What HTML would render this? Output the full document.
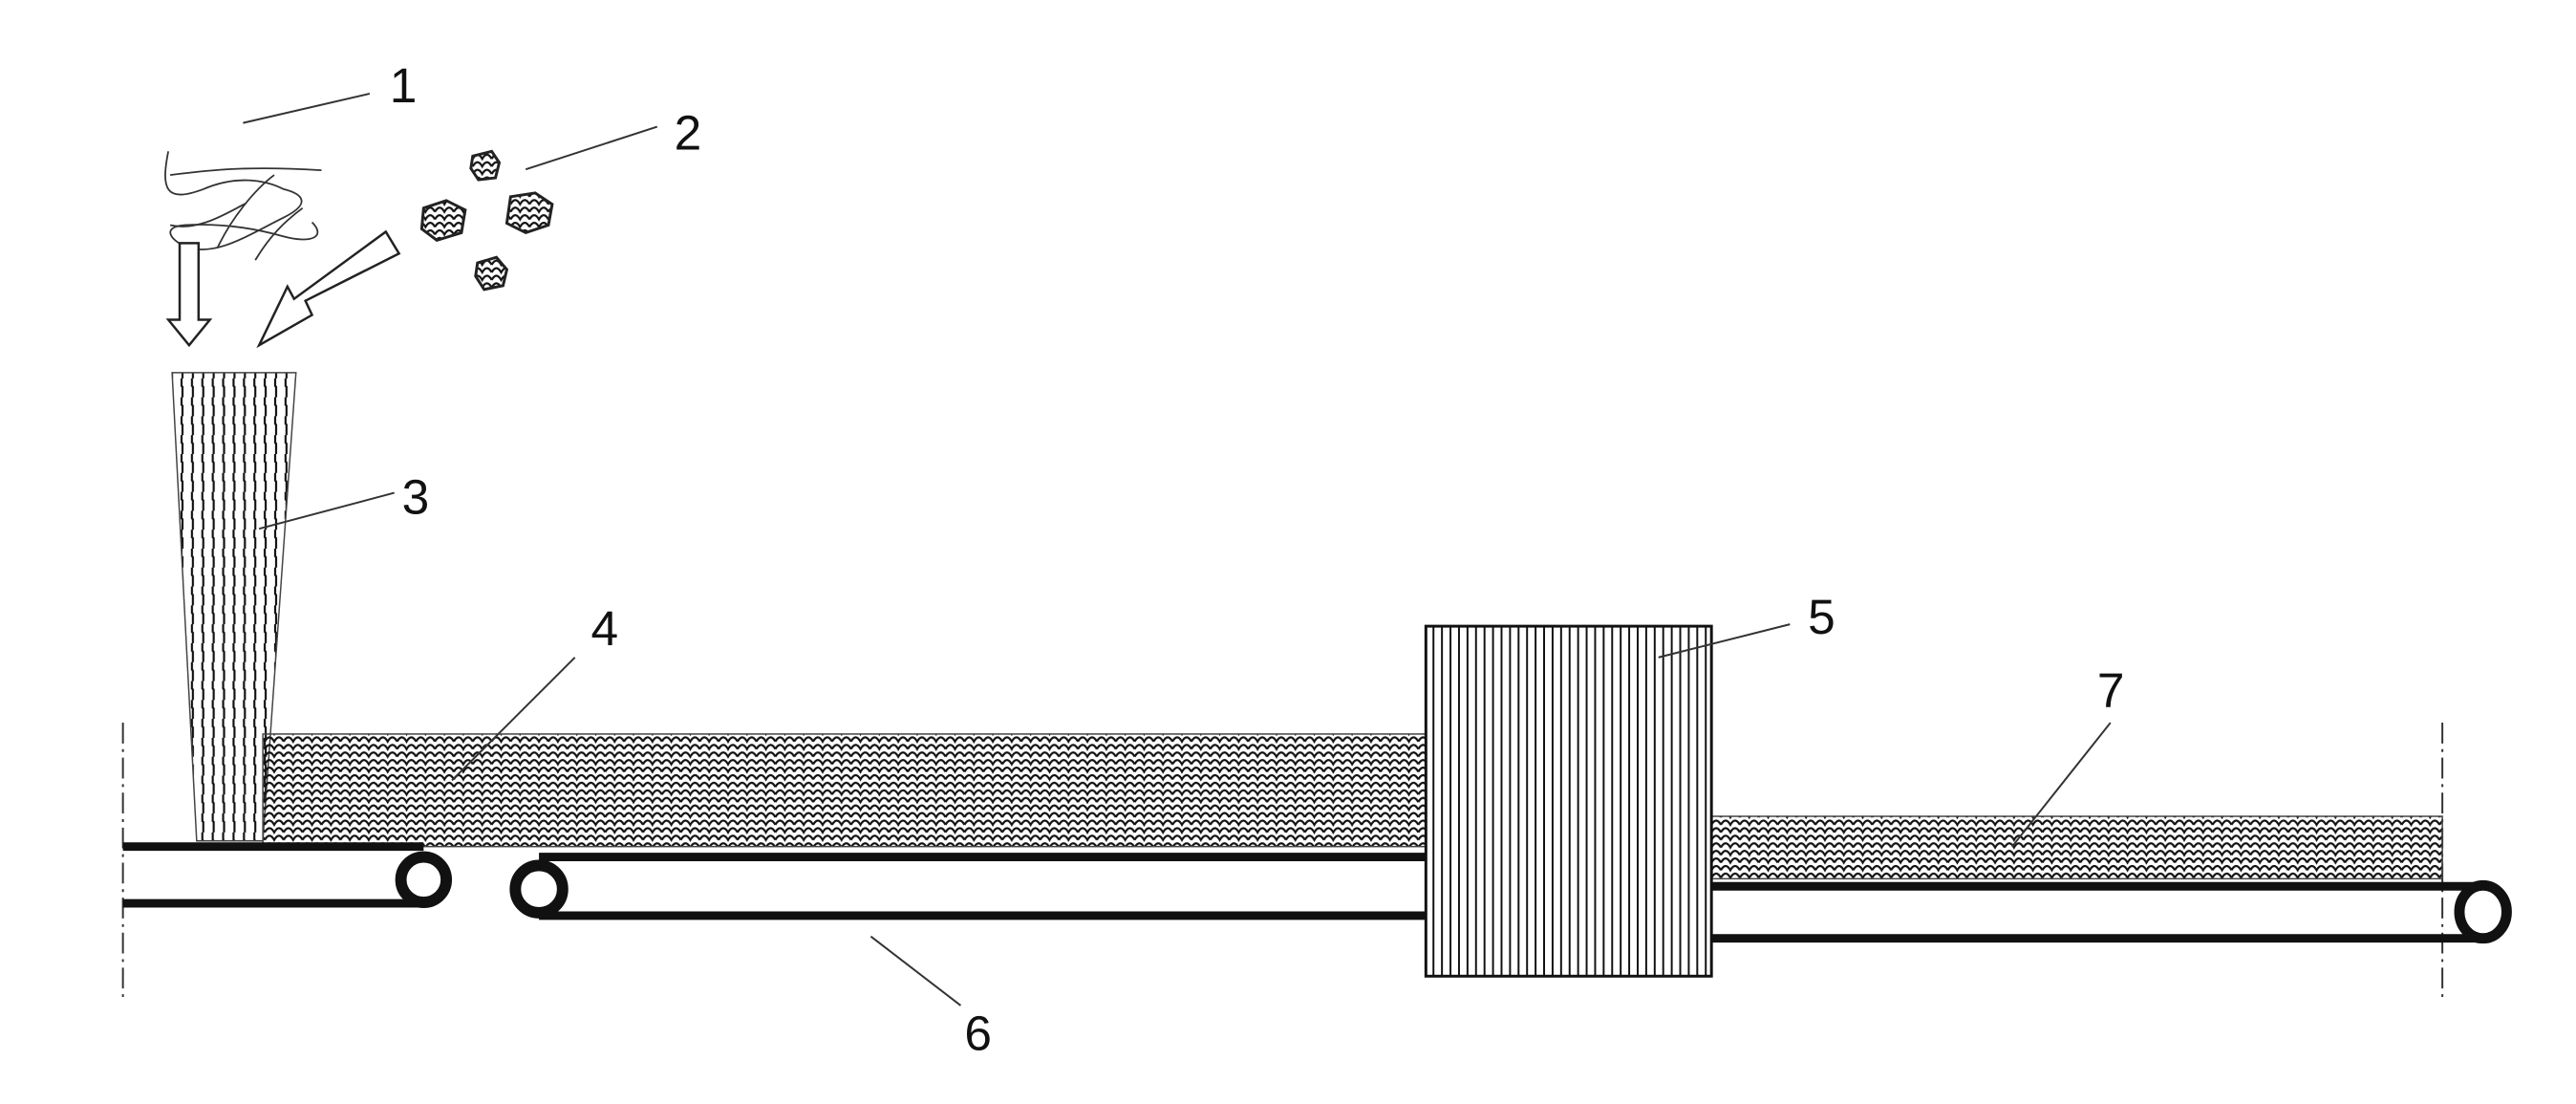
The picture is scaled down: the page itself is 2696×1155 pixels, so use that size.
<!DOCTYPE html>
<html><head><meta charset="utf-8"><style>
html,body{margin:0;padding:0;background:#fff;}
svg{display:block;}
text{font-family:"Liberation Sans",sans-serif;font-size:52px;fill:#111;}
</style></head><body>
<svg width="2696" height="1155" viewBox="0 0 2696 1155" xmlns="http://www.w3.org/2000/svg">
<defs>
<pattern id="scale" width="20" height="16" patternUnits="userSpaceOnUse">
<path d="M0 8 Q5 -1 10 8 Q15 -1 20 8 M-10 16 Q-5 7 0 16 Q5 7 10 16 Q15 7 20 16 M0 0 Q5 -9 10 0 Q15 -9 20 0" fill="none" stroke="#111" stroke-width="2.2"/>
</pattern>
<pattern id="vlines" width="9" height="20" patternUnits="userSpaceOnUse">
<line x1="4" y1="0" x2="4" y2="20" stroke="#111" stroke-width="2"/>
</pattern>
<pattern id="vwave" width="11" height="20" patternUnits="userSpaceOnUse">
<path d="M5 0 L5 8 L6 9 L6 20" fill="none" stroke="#111" stroke-width="2.2"/>
</pattern>
<clipPath id="hop"><polygon points="182,394 313,394 278,889 208,889"/></clipPath>
</defs>
<g transform="scale(0.9896)">
<!-- fibres -->
<g fill="none" stroke="#333" stroke-width="1.8">
<path d="M178 160 C170 200 175 215 215 200 C250 185 280 190 300 200 C320 205 330 215 300 230 C260 250 230 270 200 262 C180 255 170 240 195 238 C230 236 265 240 300 250 C330 258 345 250 330 235"/>
<path d="M180 185 C220 180 260 175 340 180"/>
<path d="M230 262 C245 230 270 200 290 185"/>
<path d="M270 275 C285 250 300 235 320 220"/>
<path d="M180 238 C210 245 240 225 260 215"/>
</g>
<line x1="257" y1="130" x2="391" y2="99" stroke="#333" stroke-width="2"/>
<text x="412" y="108">1</text>

<!-- particles -->
<g fill="url(#scale)" stroke="#222" stroke-width="3">
<path d="M500 165 L520 160 L528 172 L524 188 L506 190 L498 178 Z"/>
<path d="M448 220 L472 212 L492 222 L488 246 L462 254 L446 242 Z"/>
<path d="M540 208 L566 204 L584 216 L580 238 L556 246 L536 236 Z"/>
<path d="M505 278 L525 272 L536 285 L532 302 L512 306 L503 292 Z"/>
</g>
<line x1="556" y1="179" x2="695" y2="134" stroke="#333" stroke-width="2"/>
<text x="713" y="158">2</text>

<!-- arrows -->
<polygon points="190,257 210,257 210,338 222,338 200,365 178,338 190,338" fill="#fff" stroke="#222" stroke-width="2.5"/>
<polygon points="408,245 422,268 323,318 330,333 274,365 304,303 311,316" fill="#fff" stroke="#222" stroke-width="2.5"/>

<!-- hopper -->
<g clip-path="url(#hop)"><rect x="180" y="394" width="140" height="500" fill="url(#vwave)"/></g>
<polygon points="182,394 313,394 278,889 208,889" fill="none" stroke="#444" stroke-width="1.5"/>
<line x1="274" y1="559" x2="417" y2="521" stroke="#333" stroke-width="2"/>
<text x="425" y="543">3</text>

<!-- layer 4 -->
<rect x="278" y="776" width="1230" height="119" fill="url(#scale)" stroke="#444" stroke-width="1.5"/>
<line x1="478" y1="825" x2="608" y2="695" stroke="#333" stroke-width="2"/>
<text x="625" y="682">4</text>

<!-- dash-dot lines -->
<g stroke="#333" stroke-width="2" stroke-dasharray="22,6,3,6">
<line x1="130" y1="764" x2="130" y2="1060"/>
<line x1="2583" y1="764" x2="2583" y2="1060"/>
</g>

<!-- belt 1 -->
<line x1="130" y1="895" x2="448" y2="895" stroke="#111" stroke-width="9"/>
<line x1="130" y1="955" x2="448" y2="955" stroke="#111" stroke-width="9"/>
<circle cx="448" cy="930" r="24" fill="#fff" stroke="#111" stroke-width="12"/>

<!-- belt 2 -->
<line x1="570" y1="906" x2="1510" y2="906" stroke="#111" stroke-width="9"/>
<line x1="570" y1="968" x2="1510" y2="968" stroke="#111" stroke-width="9"/>
<circle cx="570" cy="940" r="25" fill="#fff" stroke="#111" stroke-width="12"/>
<line x1="921" y1="990" x2="1016" y2="1063" stroke="#333" stroke-width="2"/>
<text x="1020" y="1110">6</text>

<!-- belt 3 -->
<line x1="1810" y1="937" x2="2626" y2="937" stroke="#111" stroke-width="9"/>
<line x1="1810" y1="992" x2="2626" y2="992" stroke="#111" stroke-width="9"/>
<ellipse cx="2626" cy="964" rx="25" ry="28" fill="#fff" stroke="#111" stroke-width="11"/>

<!-- layer 7 -->
<rect x="1810" y="863" width="773" height="66" fill="url(#scale)" stroke="#444" stroke-width="1.5"/>
<line x1="2128" y1="895" x2="2232" y2="764" stroke="#333" stroke-width="2"/>
<text x="2218" y="748">7</text>

<!-- box 5 -->
<rect x="1508" y="662" width="302" height="370" fill="#fff"/>
<rect x="1508" y="662" width="302" height="370" fill="url(#vlines)" stroke="#111" stroke-width="3"/>
<line x1="1754" y1="695" x2="1893" y2="660" stroke="#333" stroke-width="2"/>
<text x="1912" y="670">5</text>
</g>
</svg>
</body></html>
